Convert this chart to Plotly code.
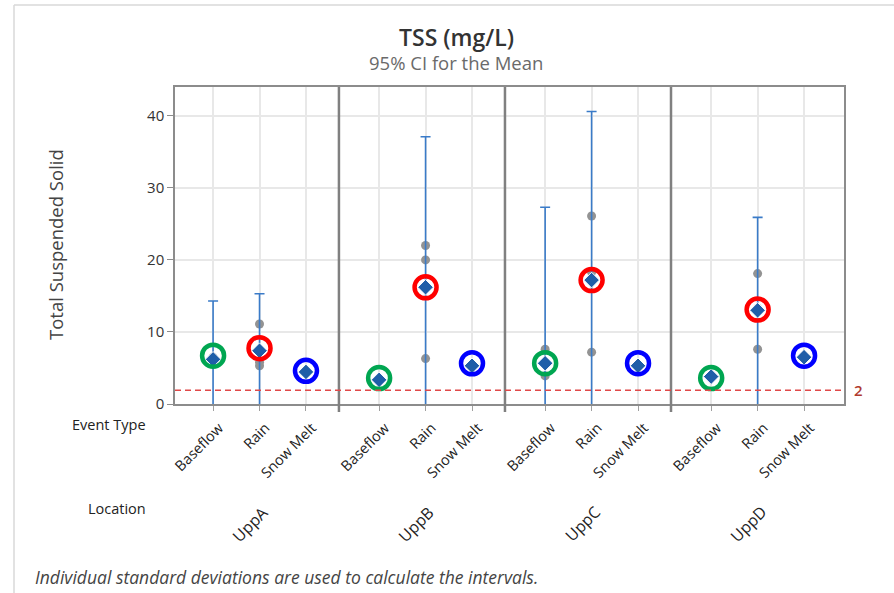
import plotly.graph_objects as go

# ---------------- data ----------------
locations = ["UppA", "UppB", "UppC", "UppD"]
events = ["Baseflow", "Rain", "Snow Melt"]

# group means (diamonds)
mean_UppA = [6.2, 7.4, 4.45]
mean_UppB = [3.35, 16.2, 5.3]
mean_UppC = [5.66, 17.2, 5.3]
mean_UppD = [3.8, 13.0, 6.5]

# highlight ring centres
ring_UppA = [6.7, 7.75, 4.6]
ring_UppB = [3.6, 16.2, 5.65]
ring_UppC = [5.66, 17.2, 5.66]
ring_UppD = [3.6, 13.1, 6.7]

# 95% CI limits (None = no interval); lower limits fall below 0 (clipped)
upper_UppA = [14.3, 15.3, None]
upper_UppB = [None, 37.1, None]
upper_UppC = [27.3, 40.6, None]
upper_UppD = [None, 25.9, None]
lower_UppA = [-1.9, -0.5, None]
lower_UppB = [None, -4.7, None]
lower_UppC = [-16.0, -6.2, None]
lower_UppD = [None, -0.4, None]

# individual observations
obs_UppA = [[6.5, 5.9], [11.1, 5.8, 5.3], [4.45]]
obs_UppB = [[3.35], [22.0, 20.0, 6.3], [5.3]]
obs_UppC = [[7.6, 5.6, 3.9], [26.1, 18.3, 7.2], [5.3]]
obs_UppD = [[3.8], [18.1, 13.3, 7.6], [6.5]]

ring_colors = ["#00A651", "#FF0000", "#0000FF"]
reference_value = 1.9
reference_label = "2"

y_ticks = [0, 10, 20, 30, 40]

means = [mean_UppA, mean_UppB, mean_UppC, mean_UppD]
rings = [ring_UppA, ring_UppB, ring_UppC, ring_UppD]
uppers = [upper_UppA, upper_UppB, upper_UppC, upper_UppD]
lowers = [lower_UppA, lower_UppB, lower_UppC, lower_UppD]
obs = [obs_UppA, obs_UppB, obs_UppC, obs_UppD]

# ---------------- positions ----------------
GROUP_STEP = 3.575
SEP_OFFSET = 2.71


def xpos(g, i):
    return g * GROUP_STEP + i


fig = go.Figure()

# individual points
ox, oy = [], []
for g in range(len(locations)):
    for i in range(len(events)):
        for v in obs[g][i]:
            ox.append(xpos(g, i))
            oy.append(v)
fig.add_trace(go.Scatter(x=ox, y=oy, mode="markers",
                         marker=dict(color="#939393", size=9, symbol="circle"),
                         hoverinfo="skip", showlegend=False))

# CI bars
cx, cy, cup, cdn = [], [], [], []
for g in range(len(locations)):
    for i in range(len(events)):
        u = uppers[g][i]
        lo = lowers[g][i]
        if u is not None:
            m = means[g][i]
            cx.append(xpos(g, i))
            cy.append(m)
            cup.append(u - m)
            cdn.append(m - lo)
fig.add_trace(go.Scatter(x=cx, y=cy, mode="markers",
                         marker=dict(size=1, color="rgba(0,0,0,0)"),
                         error_y=dict(type="data", symmetric=False, array=cup,
                                      arrayminus=cdn, color="#3A7BC8",
                                      thickness=1.6, width=5),
                         hoverinfo="skip", showlegend=False))

# means
mx, my = [], []
for g in range(len(locations)):
    for i in range(len(events)):
        mx.append(xpos(g, i))
        my.append(means[g][i])
fig.add_trace(go.Scatter(x=mx, y=my, mode="markers",
                         marker=dict(symbol="diamond", size=12, color="#1F5EA8",
                                     line=dict(color="white", width=1)),
                         showlegend=False))

# rings
for i in range(len(events)):
    rx = [xpos(g, i) for g in range(len(locations))]
    ry = [rings[g][i] for g in range(len(locations))]
    fig.add_trace(go.Scatter(x=rx, y=ry, mode="markers",
                             marker=dict(symbol="circle-open", size=22,
                                         color=ring_colors[i],
                                         line=dict(width=4.5, color=ring_colors[i])),
                             showlegend=False, cliponaxis=False))

# tick values / texts
tickvals = [xpos(g, i) for g in range(len(locations)) for i in range(len(events))]
ticktext = [events[i] for g in range(len(locations)) for i in range(len(events))]

# ---------------- layout ----------------
L, R, T, B = 175, 50, 87, 189
W, H = 894, 593
pw, ph = W - L - R, H - T - B


def px_x(px):
    return (px - L) / pw


def px_y(py):
    return (H - B - py) / ph


x_lo = -0.82
x_hi = xpos(3, 2) + 0.86

shapes = []
# group separators
for g in range(len(locations) - 1):
    sx = g * GROUP_STEP + SEP_OFFSET
    shapes.append(dict(type="line", xref="x", yref="paper", x0=sx, x1=sx,
                       y0=px_y(412), y1=1, line=dict(color="#808080", width=2.5),
                       layer="above"))
# reference line
shapes.append(dict(type="line", xref="paper", yref="y", x0=0, x1=1,
                   y0=reference_value, y1=reference_value,
                   line=dict(color="#E04848", width=1.5, dash="6px,4px")))
# outer frame
shapes.append(dict(type="line", xref="paper", yref="paper",
                   x0=px_x(14), x1=px_x(14), y0=px_y(593), y1=px_y(5),
                   line=dict(color="#D9D9D9", width=1.5)))
shapes.append(dict(type="line", xref="paper", yref="paper",
                   x0=px_x(14), x1=px_x(894), y0=px_y(5), y1=px_y(5),
                   line=dict(color="#D9D9D9", width=1.5)))

FONT = "Open Sans"


def note(text, px, py, size, color="#333333", xanchor="center", **kw):
    d = dict(text=text, x=px_x(px), y=px_y(py), xref="paper", yref="paper",
             xanchor=xanchor, yanchor="middle", showarrow=False,
             font=dict(family=FONT, size=size, color=color, **kw.pop("font", {})))
    d.update(kw)
    return d


annotations = [
    note("TSS (mg/L)", 456, 37, 23, "#333333", font=dict(weight=600)),
    note("95% CI for the Mean", 456, 62, 18.5, "#6A6A6A"),
    note("Total Suspended Solid", 55, 245, 18.5, "#444444", textangle=-90),
    note("Event Type", 148, 424, 14.5, "#222222", xanchor="right"),
    note("Location", 148, 508, 14.5, "#222222", xanchor="right"),
    note("Individual standard deviations are used to calculate the intervals.",
         33, 577, 17.5, "#444444", xanchor="left", font=dict(style="italic")),
    dict(text=reference_label, x=px_x(852), y=reference_value, xref="paper", yref="y",
         xanchor="left", yanchor="middle", showarrow=False,
         font=dict(family=FONT, size=15, color="#B03A2E", weight=600)),
]
for g, loc in enumerate(locations):
    annotations.append(dict(text=loc, x=xpos(g, 1) - 0.2, y=px_y(524),
                            xref="x", yref="paper", xanchor="center", yanchor="middle",
                            showarrow=False, textangle=-45,
                            font=dict(family=FONT, size=16, color="#222222")))

fig.update_layout(
    width=W, height=H,
    margin=dict(l=L, r=R, t=T, b=B),
    paper_bgcolor="white", plot_bgcolor="white",
    font=dict(family=FONT, color="#333333"),
    shapes=shapes, annotations=annotations,
    xaxis=dict(range=[x_lo, x_hi], tickvals=tickvals, ticktext=ticktext,
               tickangle=-45, showgrid=True, gridcolor="#E8E8E8", gridwidth=1.5,
               showline=True, linecolor="#8C8C8C", linewidth=1.5, mirror=True,
               ticks="outside", ticklen=5, tickcolor="#A0A0A0",
               ticklabelshift=6, ticklabelstandoff=3,
               tickfont=dict(family=FONT, size=14.5, color="#222222"),
               zeroline=False, fixedrange=True),
    yaxis=dict(range=[0, 44], tickvals=y_ticks, showgrid=True, gridcolor="#E8E8E8",
               gridwidth=1.5, showline=True, linecolor="#8C8C8C", linewidth=1.5,
               mirror=True, ticks="outside", ticklen=6, tickcolor="#8C8C8C",
               tickfont=dict(family=FONT, size=15, color="#333333"),
               zeroline=False, fixedrange=True),
)

fig.write_html("out.html")
